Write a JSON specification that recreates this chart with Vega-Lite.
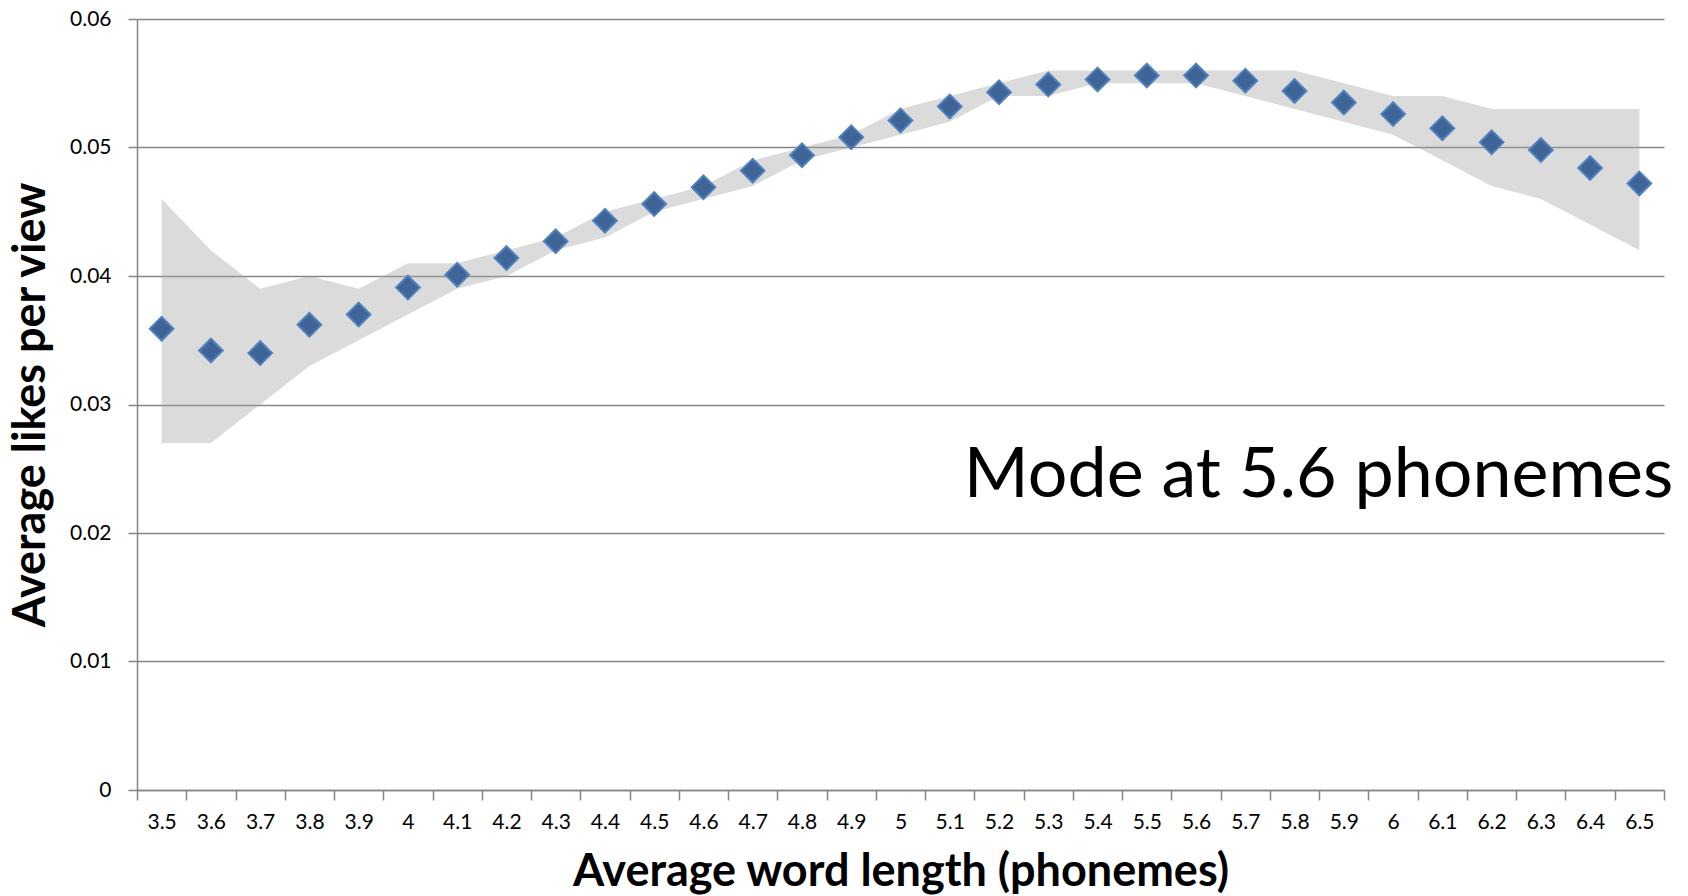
{
  "$schema": "https://vega.github.io/schema/vega-lite/v6.json",
  "width": 1527,
  "height": 771,
  "autosize": {"type": "none"},
  "padding": {"left": 137, "top": 19, "right": 24, "bottom": 106},
  "background": "white",
  "config": {
    "view": {"stroke": null},
    "font": "Lato",
    "axis": {"labelFont": "Lato", "titleFont": "Lato"}
  },
  "datasets": {
    "pts": [
      {"x": 3.5, "y": 0.0359, "lo": 0.027, "hi": 0.046},
      {"x": 3.6, "y": 0.0342, "lo": 0.027, "hi": 0.042},
      {"x": 3.7, "y": 0.0340, "lo": 0.030, "hi": 0.039},
      {"x": 3.8, "y": 0.0362, "lo": 0.033, "hi": 0.040},
      {"x": 3.9, "y": 0.0370, "lo": 0.035, "hi": 0.039},
      {"x": 4.0, "y": 0.0391, "lo": 0.037, "hi": 0.041},
      {"x": 4.1, "y": 0.0401, "lo": 0.039, "hi": 0.041},
      {"x": 4.2, "y": 0.0414, "lo": 0.040, "hi": 0.042},
      {"x": 4.3, "y": 0.0427, "lo": 0.042, "hi": 0.043},
      {"x": 4.4, "y": 0.0443, "lo": 0.043, "hi": 0.045},
      {"x": 4.5, "y": 0.0456, "lo": 0.045, "hi": 0.046},
      {"x": 4.6, "y": 0.0469, "lo": 0.046, "hi": 0.047},
      {"x": 4.7, "y": 0.0482, "lo": 0.047, "hi": 0.049},
      {"x": 4.8, "y": 0.0494, "lo": 0.049, "hi": 0.050},
      {"x": 4.9, "y": 0.0508, "lo": 0.050, "hi": 0.051},
      {"x": 5.0, "y": 0.0521, "lo": 0.051, "hi": 0.053},
      {"x": 5.1, "y": 0.0532, "lo": 0.052, "hi": 0.054},
      {"x": 5.2, "y": 0.0543, "lo": 0.054, "hi": 0.055},
      {"x": 5.3, "y": 0.0549, "lo": 0.054, "hi": 0.056},
      {"x": 5.4, "y": 0.0553, "lo": 0.055, "hi": 0.056},
      {"x": 5.5, "y": 0.0556, "lo": 0.055, "hi": 0.056},
      {"x": 5.6, "y": 0.0556, "lo": 0.055, "hi": 0.056},
      {"x": 5.7, "y": 0.0552, "lo": 0.054, "hi": 0.056},
      {"x": 5.8, "y": 0.0544, "lo": 0.053, "hi": 0.056},
      {"x": 5.9, "y": 0.0535, "lo": 0.052, "hi": 0.055},
      {"x": 6.0, "y": 0.0526, "lo": 0.051, "hi": 0.054},
      {"x": 6.1, "y": 0.0515, "lo": 0.049, "hi": 0.054},
      {"x": 6.2, "y": 0.0504, "lo": 0.047, "hi": 0.053},
      {"x": 6.3, "y": 0.0498, "lo": 0.046, "hi": 0.053},
      {"x": 6.4, "y": 0.0484, "lo": 0.044, "hi": 0.053},
      {"x": 6.5, "y": 0.0472, "lo": 0.042, "hi": 0.053}
    ],
    "note": [
      {"x": 6.5, "y": 0.0228, "label": "Mode at 5.6 phonemes"}
    ]
  },
  "encoding": {
    "x": {
      "field": "x",
      "type": "ordinal",
      "scale": {"type": "band", "paddingInner": 0, "paddingOuter": 0},
      "axis": {
        "title": "Average word length (phonemes)",
        "titleFontSize": 45,
        "titleFontWeight": "bold",
        "titleColor": "black",
        "titleY": 95,
        "titleBaseline": "alphabetic",
        "labelAngle": 0,
        "labelFontSize": 21,
        "labelColor": "black",
        "labelPadding": 11,
        "tickBand": "extent",
        "tickSize": 10,
        "tickColor": "#868686",
        "tickWidth": 1.5,
        "domainColor": "#868686",
        "domainWidth": 1.5,
        "grid": false
      }
    }
  },
  "layer": [
    {
      "data": {"name": "pts"},
      "mark": {"type": "area", "fill": "#a6a6a6", "opacity": 0.4, "interpolate": "linear"},
      "encoding": {
        "y": {
          "field": "hi",
          "type": "quantitative",
          "scale": {"domain": [0, 0.06], "nice": false, "zero": true},
          "axis": {
            "title": "Average likes per view",
            "titleFontSize": 45,
            "titleFontWeight": "bold",
            "titleColor": "black",
            "titleX": -107,
            "titleBaseline": "middle",
            "values": [0, 0.01, 0.02, 0.03, 0.04, 0.05, 0.06],
            "labelExpr": "datum.value == 0 ? '0' : format(datum.value, '.2f')",
            "labelFontSize": 21,
            "labelColor": "black",
            "labelPadding": 17,
            "tickSize": 9,
            "tickColor": "#868686",
            "tickWidth": 1.5,
            "domainColor": "#868686",
            "domainWidth": 1.5,
            "grid": true,
            "gridColor": "#868686",
            "gridWidth": 1.5
          }
        },
        "y2": {"field": "lo"}
      }
    },
    {
      "data": {"name": "pts"},
      "mark": {"type": "point", "shape": "diamond", "filled": true, "size": 560, "fill": "#3f6598", "stroke": "#4f81bd", "strokeWidth": 2, "opacity": 1},
      "encoding": {
        "y": {"field": "y", "type": "quantitative"}
      }
    },
    {
      "data": {"name": "note"},
      "mark": {"type": "text", "align": "right", "baseline": "alphabetic", "fontSize": 70, "font": "Lato", "color": "black", "dx": 34},
      "encoding": {
        "y": {"field": "y", "type": "quantitative"},
        "text": {"field": "label"}
      }
    }
  ]
}
